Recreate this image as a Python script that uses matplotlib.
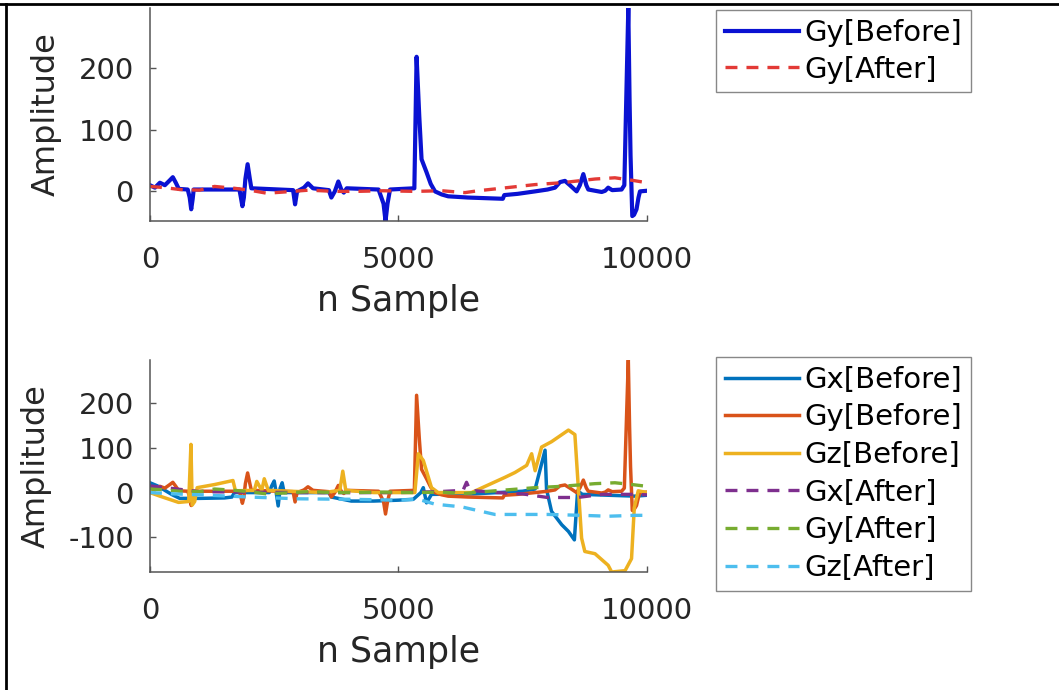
import matplotlib
matplotlib.use('Agg')
import matplotlib.pyplot as plt
from matplotlib.lines import Line2D

plt.rcParams['font.family'] = 'DejaVu Sans'
plt.rcParams['axes.unicode_minus'] = False
plt.rcParams['lines.scale_dashes'] = False

# gyroscope signals, sample index vs amplitude
gy_before_n = [0, 100, 200, 300, 400, 460, 520, 580, 760, 800, 830, 860, 880,
               1800, 1830, 1860, 1890, 1920, 1965, 2010, 2040, 2600, 2880, 2920,
               2960, 3100, 3180, 3280, 3600, 3650, 3720, 3790, 3850, 3900, 3960,
               4600, 4700, 4740, 4780, 4830, 5320, 5365, 5420, 5465, 5565, 5650,
               5735, 5870, 6000, 6400, 7100, 7130, 7400, 7750, 8000, 8150, 8250,
               8350, 8450, 8585, 8650, 8720, 8780, 8820, 9090, 9160, 9220, 9300,
               9490, 9545, 9625, 9650, 9670, 9705, 9740, 9790, 9830, 9860, 10000]
gy_before = [10, 6, 14, 10, 18, 23, 14, 4, 3, -10, -29, -12, 3,
             3, -10, -24, -10, 20, 44, 20, 5, 3, 2, -21,
             0, 6, 13, 5, 2, -10, 0, 16, 3, -2, 5,
             3, -20, -48, -20, 3, 5, 218, 120, 52, 31, 12,
             0, -5, -8, -10, -12, -6, -4, 0, 3, 6, 15,
             17, 10, 0, 10, 28, 10, 3, -1, 1, 6, 2,
             3, 10, 297, 150, 58, -40, -38, -29, -10, 0, 1]

gy_after_n = [0, 300, 600, 1000, 1300, 1700, 2000, 2350, 2700, 3200, 3700, 4160,
              4700, 5330, 5870, 6340, 6600, 7180, 7750, 8285, 8955, 9355, 9700, 10000]
gy_after = [8, 6, 3, 2, 8, 5, 2, -3, -1, 2, 0, 0,
            1, 0, 1, -2, 1, 6, 11, 14, 20, 22, 18, 14]

gx_before_n = [0, 150, 300, 450, 600, 1000, 1500, 1650, 1700, 2400, 2450, 2500,
               2540, 2580, 2620, 2660, 2700, 3600, 3650, 4050, 4500, 5000, 5300,
               5450, 5500, 5565, 5665, 6500, 7500, 7750, 7950, 7980, 8080, 8285,
               8420, 8540, 8605, 8700, 9760, 10000]
gx_before = [22, 15, 5, -5, -13, -13, -12, -10, 0, 0, 15, 26,
             0, -30, 10, 22, 0, 0, -10, -19, -19, -17, -15,
             0, 11, -23, -4, -3, 3, 8, 95, 7, -42, -72,
             -87, -106, 4, -4, -8, -6]

gz_before_n = [0, 200, 575, 780, 825, 850, 900, 950, 1300, 1670, 1720, 2100,
               2150, 2250, 2300, 2380, 3500, 3820, 3880, 3940, 4500, 5330, 5400,
               5500, 5665, 5800, 6470, 7140, 7345, 7580, 7680, 7750, 7880, 8080,
               8420, 8550, 8685, 8750, 8955, 9220, 9290, 9560, 9690, 9745, 9825,
               10000]
gz_before = [0, -8, -22, -20, 108, -28, -20, 11, 18, 27, 4, 5,
             25, 5, 31, 5, 0, 5, 48, 5, 0, 0, 87,
             72, 11, 0, 0, 34, 45, 61, 87, 49, 102, 114,
             140, 130, -102, -132, -137, -163, -178, -175, -148, -34, 4,
             0]

gx_after_n = [0, 1000, 2000, 3000, 4000, 5000, 5800, 6300, 6370, 6440, 7000,
              7500, 8000, 8600, 9100, 9700, 10000]
gx_after = [15, 2, 1, 0, 0, 0, 2, 5, 23, 5, 0, -3, -11, -11, -4, -4, -5]

gz_after_n = [0, 500, 1000, 2000, 3000, 4000, 5000, 5400, 5735, 6270, 6940,
              7480, 8015, 8685, 9220, 9760, 10000]
gz_after = [0, -3, -5, -10, -14, -15, -17, -15, -26, -32, -49,
            -49, -49, -51, -53, -51, -51]

top_labels = ['Gy[Before]', 'Gy[After]']
bottom_labels = ['Gx[Before]', 'Gy[Before]', 'Gz[Before]',
                 'Gx[After]', 'Gy[After]', 'Gz[After]']

dash = (8.6, 6.5)
tick_fs = 21
legend_fs = 21


def style_axes(ax, yticks):
    for side in ['top', 'right']:
        ax.spines[side].set_visible(False)
    for side in ['left', 'bottom']:
        ax.spines[side].set_color('#555555')
        ax.spines[side].set_linewidth(1.1)
    ax.set_xlim(0, 10000)
    ax.set_xticks([0, 5000, 10000])
    ax.set_yticks(yticks)
    ax.tick_params(axis='both', direction='in', length=4, width=1,
                   color='#555555', labelsize=tick_fs, labelcolor='#262626')
    ax.tick_params(axis='x', pad=18)
    ax.tick_params(axis='y', pad=11.5)
    ax.set_xlabel('n Sample', fontsize=25, color='#262626', labelpad=7)
    ax.set_ylabel('Amplitude', fontsize=23, color='#262626', labelpad=12)


def add_legend(ax, labels, y_top, spacing):
    ax.legend(labels, loc='upper left', bbox_to_anchor=(0.6761, y_top),
              bbox_transform=fig.transFigure, fontsize=legend_fs, frameon=True,
              fancybox=False, edgecolor='#888888', framealpha=1,
              borderaxespad=0, borderpad=0.3, labelspacing=spacing,
              handlelength=2.55, handletextpad=0.17)


fig = plt.figure(figsize=(10.59, 6.90), dpi=100)

ax1 = fig.add_axes([0.1416, 0.6797, 0.4693, 0.3087])
ax1.plot(gy_before_n, gy_before, color='#0A12D2', lw=3)
ax1.plot(gy_after_n, gy_after, color='#E33A36', lw=2.4, dashes=dash)
ax1.set_ylim(min(gy_before + gy_after), max(gy_before + gy_after))
style_axes(ax1, [0, 100, 200])
add_legend(ax1, top_labels, 0.9855, 0.3)

ax2 = fig.add_axes([0.1416, 0.171, 0.4693, 0.3072])
ax2.plot(gx_before_n, gx_before, color='#0072BD', lw=2.5)
ax2.plot(gy_before_n, gy_before, color='#D95319', lw=2.5)
ax2.plot(gz_before_n, gz_before, color='#EDB120', lw=2.5)
ax2.plot(gx_after_n, gx_after, color='#7E2F8E', lw=2.4, dashes=dash)
ax2.plot(gy_after_n, gy_after, color='#77AC30', lw=2.4, dashes=dash)
ax2.plot(gz_after_n, gz_after, color='#4DBEEE', lw=2.4, dashes=dash)
all_bottom = gx_before + gy_before + gz_before + gx_after + gy_after + gz_after
ax2.set_ylim(min(all_bottom), max(all_bottom))
style_axes(ax2, [-100, 0, 100, 200])
add_legend(ax2, bottom_labels, 0.4826, 0.33)

# black frame along the top and left edges
fig.add_artist(Line2D([0, 1], [1 - 4 / 690, 1 - 4 / 690], color='black',
                      lw=2, transform=fig.transFigure))
fig.add_artist(Line2D([6 / 1059, 6 / 1059], [0, 1 - 4 / 690], color='black',
                      lw=2, transform=fig.transFigure))

fig.savefig('out.png', dpi=100, facecolor='white')
